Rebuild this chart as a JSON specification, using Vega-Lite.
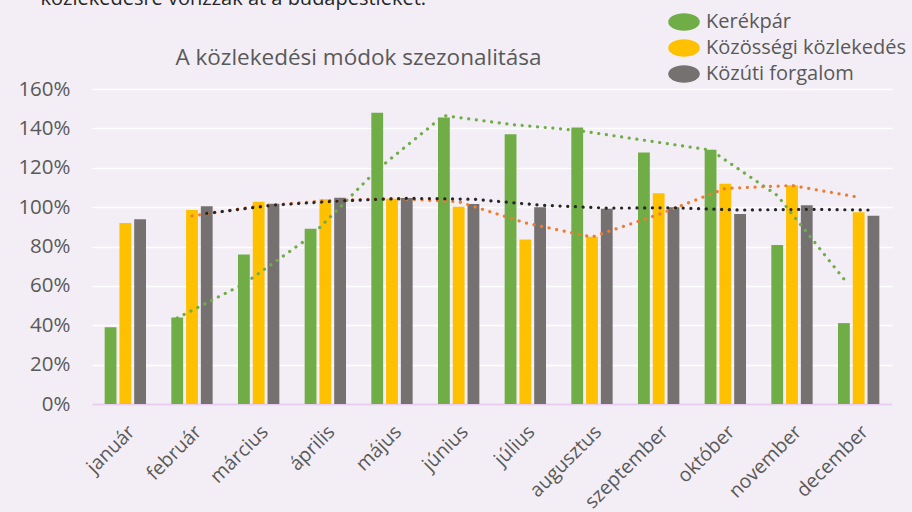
{
  "$schema": "https://vega.github.io/schema/vega-lite/v6.json",
  "width": 800,
  "height": 315,
  "autosize": {"type": "none"},
  "padding": {"left": 92, "top": 89, "right": 20, "bottom": 108},
  "background": "#F3EEF5",
  "config": {"view": {"stroke": null}, "font": "Open Sans"},
  "data": {"values": [
    {"month": "január", "series": "Kerékpár", "value": 0.39, "trend": null},
    {"month": "január", "series": "Közösségi közlekedés", "value": 0.92, "trend": null},
    {"month": "január", "series": "Közúti forgalom", "value": 0.938, "trend": null},
    {"month": "február", "series": "Kerékpár", "value": 0.44, "trend": 0.437},
    {"month": "február", "series": "Közösségi közlekedés", "value": 0.985, "trend": 0.955},
    {"month": "február", "series": "Közúti forgalom", "value": 1.004, "trend": 0.968},
    {"month": "március", "series": "Kerékpár", "value": 0.76, "trend": 0.61},
    {"month": "március", "series": "Közösségi közlekedés", "value": 1.027, "trend": 1.005},
    {"month": "március", "series": "Közúti forgalom", "value": 1.017, "trend": 1.01},
    {"month": "április", "series": "Kerékpár", "value": 0.89, "trend": 0.85},
    {"month": "április", "series": "Közösségi közlekedés", "value": 1.04, "trend": 1.032},
    {"month": "április", "series": "Közúti forgalom", "value": 1.048, "trend": 1.032},
    {"month": "május", "series": "Kerékpár", "value": 1.48, "trend": 1.19},
    {"month": "május", "series": "Közösségi közlekedés", "value": 1.042, "trend": 1.044},
    {"month": "május", "series": "Közúti forgalom", "value": 1.046, "trend": 1.045},
    {"month": "június", "series": "Kerékpár", "value": 1.455, "trend": 1.465},
    {"month": "június", "series": "Közösségi közlekedés", "value": 1.002, "trend": 1.027},
    {"month": "június", "series": "Közúti forgalom", "value": 1.016, "trend": 1.04},
    {"month": "július", "series": "Kerékpár", "value": 1.37, "trend": 1.42},
    {"month": "július", "series": "Közösségi közlekedés", "value": 0.836, "trend": 0.92},
    {"month": "július", "series": "Közúti forgalom", "value": 0.999, "trend": 1.01},
    {"month": "augusztus", "series": "Kerékpár", "value": 1.405, "trend": 1.39},
    {"month": "augusztus", "series": "Közösségi közlekedés", "value": 0.85, "trend": 0.848},
    {"month": "augusztus", "series": "Közúti forgalom", "value": 0.992, "trend": 0.995},
    {"month": "szeptember", "series": "Kerékpár", "value": 1.278, "trend": 1.34},
    {"month": "szeptember", "series": "Közösségi közlekedés", "value": 1.07, "trend": 0.963},
    {"month": "szeptember", "series": "Közúti forgalom", "value": 1.0, "trend": 0.997},
    {"month": "október", "series": "Kerékpár", "value": 1.292, "trend": 1.29},
    {"month": "október", "series": "Közösségi közlekedés", "value": 1.119, "trend": 1.095},
    {"month": "október", "series": "Közúti forgalom", "value": 0.965, "trend": 0.985},
    {"month": "november", "series": "Kerékpár", "value": 0.808, "trend": 1.06},
    {"month": "november", "series": "Közösségi közlekedés", "value": 1.111, "trend": 1.11},
    {"month": "november", "series": "Közúti forgalom", "value": 1.009, "trend": 0.989},
    {"month": "december", "series": "Kerékpár", "value": 0.411, "trend": 0.635},
    {"month": "december", "series": "Közösségi közlekedés", "value": 0.974, "trend": 1.05},
    {"month": "december", "series": "Közúti forgalom", "value": 0.956, "trend": 0.985}
  ]},
  "encoding": {
    "x": {
      "field": "month", "type": "nominal", "sort": null,
      "scale": {"paddingInner": 0.38, "paddingOuter": 0.19},
      "axis": {
        "labelAngle": -45, "labelFontSize": 19.5, "labelColor": "#595959", "labelPadding": 18,
        "ticks": false, "domain": true, "domainColor": "#E8CCF2", "domainWidth": 2, "grid": false,
        "title": "közlekedésre vonzzák át a budapestieket.",
        "titleX": -52, "titleY": -400, "titleAlign": "left", "titleBaseline": "alphabetic",
        "titleFontSize": 20, "titleFontWeight": "normal", "titleColor": "#262626"
      }
    },
    "xOffset": {"field": "series", "type": "nominal", "sort": null, "scale": {"paddingInner": 0.2}}
  },
  "layer": [
    {
      "mark": {"type": "bar"},
      "encoding": {
        "y": {
          "field": "value", "type": "quantitative",
          "scale": {"domain": [0, 1.6]},
          "axis": {
            "values": [0, 0.2, 0.4, 0.6, 0.8, 1.0, 1.2, 1.4, 1.6], "format": ".0%", "labelOverlap": false,
            "labelFontSize": 20.5, "labelColor": "#595959", "labelPadding": 22,
            "ticks": false, "domain": false, "grid": true, "gridColor": "#FFFFFF", "gridWidth": 1.5,
            "title": "A közlekedési módok szezonalitása",
            "titleAngle": 0, "titleX": 266, "titleY": -32, "titleAlign": "center", "titleBaseline": "middle",
            "titleFontSize": 22.5, "titleFontWeight": "normal", "titleColor": "#595959"
          }
        },
        "color": {
          "field": "series", "type": "nominal", "sort": null,
          "scale": {"domain": ["Kerékpár", "Közösségi közlekedés", "Közúti forgalom"], "range": ["#70AD47", "#FFC000", "#767171"]},
          "legend": {
            "orient": "none", "legendX": 576, "legendY": -83, "title": null,
            "symbolType": "M-1,0A1,0.55,0,1,0,1,0A1,0.55,0,1,0,-1,0Z",
            "symbolSize": 1000, "symbolStrokeWidth": 0, "symbolOpacity": 1,
            "labelFontSize": 20, "labelColor": "#595959", "labelOffset": 6, "rowPadding": -1,
            "labelLimit": 300
          }
        }
      }
    },
    {
      "mark": {"type": "line", "strokeDash": [0.1, 7.6], "strokeCap": "round", "strokeWidth": 3.2},
      "encoding": {
        "y": {
          "field": "trend", "type": "quantitative",
          "axis": {
            "values": [0, 0.2, 0.4, 0.6, 0.8, 1.0, 1.2, 1.4, 1.6], "format": ".0%", "labelOverlap": false,
            "labelFontSize": 20.5, "labelColor": "#595959", "labelPadding": 22,
            "ticks": false, "domain": false, "grid": true, "gridColor": "#FFFFFF", "gridWidth": 1.5,
            "title": "A közlekedési módok szezonalitása",
            "titleAngle": 0, "titleX": 266, "titleY": -32, "titleAlign": "center", "titleBaseline": "middle",
            "titleFontSize": 22.5, "titleFontWeight": "normal", "titleColor": "#595959"
          }
        },
        "color": {
          "field": "series", "type": "nominal", "sort": null,
          "scale": {"domain": ["Kerékpár", "Közösségi közlekedés", "Közúti forgalom"], "range": ["#70AD47", "#ED7D31", "#262626"]},
          "legend": null
        }
      }
    }
  ],
  "resolve": {"scale": {"color": "independent"}}
}
